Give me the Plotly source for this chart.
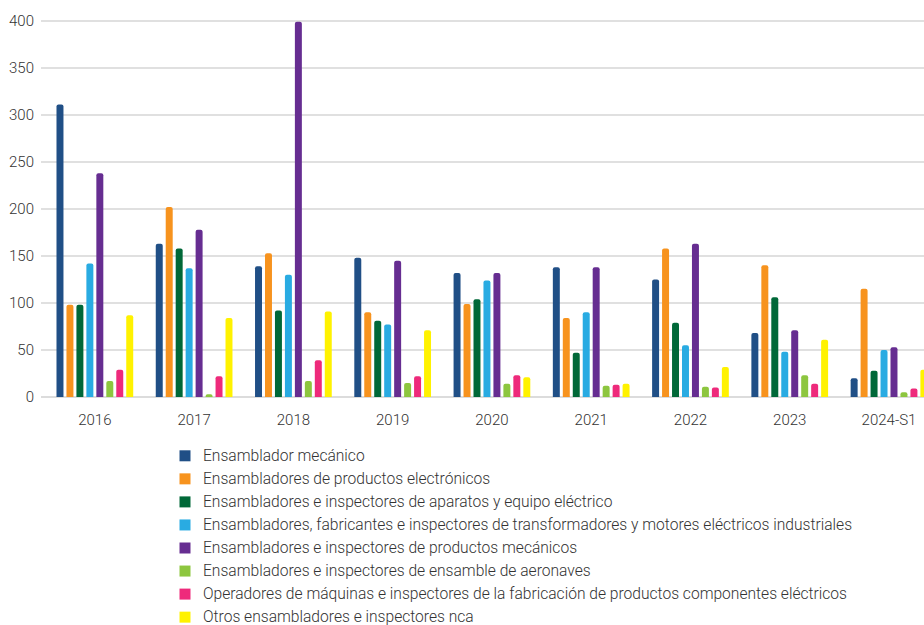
import plotly.graph_objects as go

# Periods on the category axis
periods = ["2016", "2017", "2018", "2019", "2020", "2021", "2022", "2023", "2024-S1"]

# Occupation names (legend order)
occupations = [
    "Ensamblador mecánico",
    "Ensambladores de productos electrónicos",
    "Ensambladores e inspectores de aparatos y equipo eléctrico",
    "Ensambladores, fabricantes e inspectores de transformadores y motores eléctricos industriales",
    "Ensambladores e inspectores de productos mecánicos",
    "Ensambladores e inspectores de ensamble de aeronaves",
    "Operadores de máquinas e inspectores de la fabricación de productos componentes eléctricos",
    "Otros ensambladores e inspectores nca",
]

# Values per occupation, one per period
ensamblador_mecanico = [311, 163, 139, 148, 132, 138, 125, 68, 20]
productos_electronicos = [98, 202, 153, 90, 99, 84, 158, 140, 115]
aparatos_electricos = [98, 158, 92, 81, 104, 47, 79, 106, 28]
transformadores_motores = [142, 137, 130, 77, 124, 90, 55, 48, 50]
productos_mecanicos = [238, 178, 399, 145, 132, 138, 163, 71, 53]
aeronaves = [17, 3, 17, 15, 14, 12, 11, 23, 5]
componentes_electricos = [29, 22, 39, 22, 23, 13, 10, 14, 9]
otros_nca = [87, 84, 91, 71, 21, 14, 32, 61, 29]

series = [
    ensamblador_mecanico,
    productos_electronicos,
    aparatos_electricos,
    transformadores_motores,
    productos_mecanicos,
    aeronaves,
    componentes_electricos,
    otros_nca,
]

colors = ["#204f86", "#f7931e", "#006838", "#29abe2",
          "#662d91", "#8dc63f", "#ee2a7b", "#fff200"]

FONT = "Roboto, sans-serif"
TEXT_COLOR = "#333333"
TEXT_WEIGHT = 300

W, H = 924, 625
M_L, M_R, M_T, M_B = 41, 0, 19, 228
PLOT_W = W - M_L - M_R
PLOT_H = H - M_T - M_B

fig = go.Figure()
for name, vals, col in zip(occupations, series, colors):
    fig.add_trace(go.Bar(
        name=name, x=periods, y=vals,
        marker=dict(color=col, line=dict(width=0)),
        showlegend=False,
        hovertemplate="%{x}: %{y}<extra>" + name + "</extra>",
    ))


def px_to_paper_x(px):
    return (px - M_L) / PLOT_W


def px_to_paper_y(py):
    return (H - M_B - py) / PLOT_H


# Legend drawn as square swatches with labels below the plot
shapes = []
annotations = []
legend_top = 455.8
legend_step = 23.05
sw = 11
sq_left = 179.5
for i, (name, col) in enumerate(zip(occupations, colors)):
    cy = legend_top + i * legend_step
    shapes.append(dict(
        type="rect", xref="paper", yref="paper",
        x0=px_to_paper_x(sq_left), x1=px_to_paper_x(sq_left + sw),
        y0=px_to_paper_y(cy + sw / 2), y1=px_to_paper_y(cy - sw / 2),
        fillcolor=col, line=dict(width=0),
    ))
    annotations.append(dict(
        xref="paper", yref="paper",
        x=px_to_paper_x(201), y=px_to_paper_y(cy),
        xanchor="left", yanchor="middle",
        text=name, showarrow=False,
        font=dict(family=FONT, size=15.6, color=TEXT_COLOR, weight=TEXT_WEIGHT),
    ))

fig.update_layout(
    width=W, height=H,
    margin=dict(l=M_L, r=M_R, t=M_T, b=M_B),
    paper_bgcolor="white", plot_bgcolor="white",
    barmode="group", bargap=0.197, bargroupgap=0.3,
    barcornerradius=2,
    font=dict(family=FONT, color=TEXT_COLOR, weight=TEXT_WEIGHT),
    shapes=shapes, annotations=annotations,
    showlegend=False,
    xaxis=dict(
        type="category", range=[-0.5425, 8.3525],
        showgrid=False, showline=False, ticks="",
        tickfont=dict(family=FONT, size=15, color=TEXT_COLOR, weight=TEXT_WEIGHT),
        ticklabelstandoff=12,
    ),
    yaxis=dict(
        range=[0, 402], tickvals=[0, 50, 100, 150, 200, 250, 300, 350, 400],
        showgrid=True, gridcolor="#e0e0e0", gridwidth=2,
        zeroline=True, zerolinecolor="#dcdcdc", zerolinewidth=2,
        showline=False, ticks="",
        tickfont=dict(family=FONT, size=15, color=TEXT_COLOR, weight=TEXT_WEIGHT),
        ticklabelstandoff=6,
    ),
)

fig.write_html("out.html")
